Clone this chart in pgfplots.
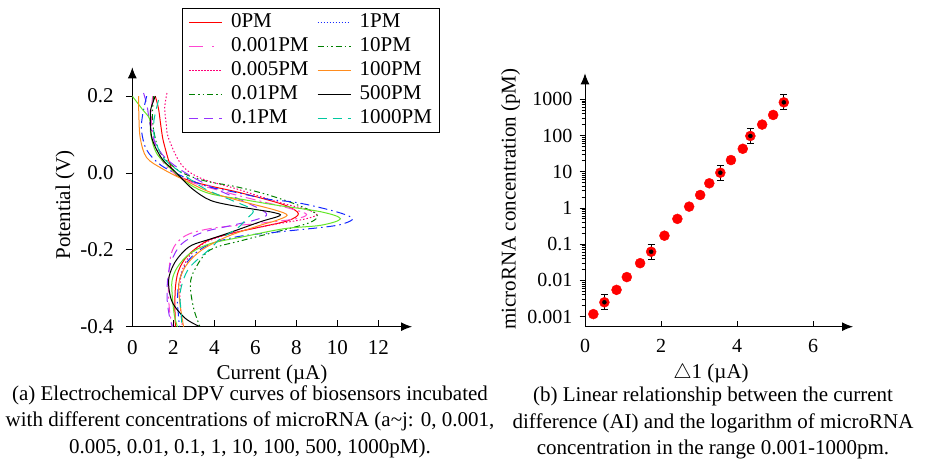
\documentclass[border=0pt]{standalone}
\usepackage{fontspec}
\setmainfont{Liberation Serif}
\usepackage{pgfplots}
\usepackage{pgfplotstable}
\pgfplotsset{compat=1.18}
\usetikzlibrary{arrows.meta}

\definecolor{cRed}{RGB}{255,0,0}
\definecolor{cMag}{RGB}{255,70,210}
\definecolor{cPink}{RGB}{255,0,120}
\definecolor{cDkGreen}{RGB}{0,128,0}
\definecolor{cViolet}{RGB}{150,50,255}
\definecolor{cBlue}{RGB}{20,40,255}
\definecolor{cLime}{RGB}{100,230,40}
\definecolor{cOrange}{RGB}{255,140,30}
\definecolor{cTeal}{RGB}{0,200,160}

% points of panel (b) that carry error bars
\pgfplotstableread{
x y ep em
0.51 0.0025 0.00156 0.00096
1.74 0.062 0.0386 0.0237
3.56 9.4 5.85 3.6
4.35 97 60 37
5.23 822 511 315
}\errpts

\begin{document}
\fontsize{21}{26.5}\selectfont
\begin{tikzpicture}[x=1pt,y=1pt]
\useasboundingbox (0,0) rectangle (930,459);

% ---------- (a) DPV curves ----------
\begin{axis}[
  at={(132.3pt,132.3pt)}, anchor=south west,
  scale only axis, width=279.7pt, height=259.4pt,
  xmin=0, xmax=13.64, ymin=-0.4, ymax=0.275,
  axis lines=left,
  axis line style={line width=1pt, -{Latex[length=11pt,width=9pt]}},
  tick align=outside, major tick length=6.5pt,
  tick style={black, line width=0.9pt},
  x tick style={yshift=6.5pt},
  xtick={0,2,4,6,8,10,12}, xticklabels={0,2,4,6,8,10,12},
  ytick={-0.4,-0.2,0,0.2}, yticklabels={-0.4,-0.2,0.0,0.2},
  yticklabel style={xshift=-5pt},
  legend columns=2, legend cell align=left,
  legend image code/.code={\draw[#1] (0pt,0pt) -- (33pt,0pt);},
  legend style={at={(0.178,1.2286)}, anchor=north west, draw=black, line width=0.9pt,
    inner xsep=6pt, inner ysep=2pt, column sep=7pt,
    nodes={inner sep=1.5pt, text height=16pt, text depth=5pt},
    font=\fontsize{21}{21}\selectfont},
  every axis plot/.append style={line width=1pt},
]
\addlegendimage{cRed, solid}\addlegendentry{0PM}
\addlegendimage{cBlue, dash pattern=on 1.5pt off 1.5pt}\addlegendentry{1PM}
\addlegendimage{cMag, dash pattern=on 14pt off 9pt on 1.5pt off 9pt}\addlegendentry{0.001PM}
\addlegendimage{cDkGreen, dash pattern=on 6pt off 3pt on 1.5pt off 3pt on 1.5pt off 3pt}\addlegendentry{10PM}
\addlegendimage{cPink, dash pattern=on 1.5pt off 1.5pt}\addlegendentry{0.005PM}
\addlegendimage{cOrange, solid}\addlegendentry{100PM}
\addlegendimage{cDkGreen, dash pattern=on 6pt off 3pt on 1.5pt off 3pt on 1.5pt off 3pt}\addlegendentry{0.01PM}
\addlegendimage{black, solid}\addlegendentry{500PM}
\addlegendimage{cViolet, dash pattern=on 9pt off 6pt}\addlegendentry{0.1PM}
\addlegendimage{cTeal, dash pattern=on 9pt off 6pt}\addlegendentry{1000PM}

% 0PM
\addplot[cRed, smooth, tension=0.55, forget plot] coordinates {
(1.12,0.200)(1.28,0.167)(1.40,0.120)(1.55,0.075)(2.00,0.003)(2.70,-0.018)(3.64,-0.032)(5.00,-0.048)(6.40,-0.067)(7.55,-0.086)(8.10,-0.106)(7.60,-0.124)(6.30,-0.140)(4.60,-0.160)(3.60,-0.178)(2.70,-0.215)(2.25,-0.255)(2.10,-0.300)(2.08,-0.350)(2.10,-0.400)};
% 0.001PM
\addplot[cMag, dash pattern=on 10pt off 4pt on 2pt off 4pt, smooth, tension=0.55, forget plot] coordinates {
(1.00,0.200)(0.92,0.160)(0.98,0.110)(1.20,0.060)(1.70,0.015)(2.70,-0.020)(4.20,-0.045)(6.00,-0.070)(7.80,-0.094)(8.50,-0.108)(7.90,-0.120)(6.00,-0.132)(4.00,-0.143)(2.80,-0.158)(2.20,-0.180)(1.90,-0.210)(1.78,-0.260)(1.76,-0.310)(1.82,-0.360)(1.95,-0.400)};
% 0.005PM
\addplot[cPink, dash pattern=on 1.5pt off 2pt, smooth, tension=0.55, forget plot] coordinates {
(1.69,0.208)(1.58,0.170)(1.65,0.130)(1.77,0.090)(2.42,0.020)(3.40,-0.015)(5.00,-0.040)(7.06,-0.075)(8.50,-0.095)(9.00,-0.108)(8.40,-0.120)(6.80,-0.135)(5.00,-0.155)(3.60,-0.180)(2.80,-0.215)(2.40,-0.260)(2.32,-0.310)(2.36,-0.360)(2.45,-0.400)};
% 0.01PM
\addplot[cDkGreen, dash pattern=on 6pt off 3pt on 1.5pt off 3pt on 1.5pt off 3pt, smooth, tension=0.55, forget plot] coordinates {
(1.04,0.200)(0.98,0.150)(1.08,0.100)(1.40,0.050)(2.30,0.005)(3.50,-0.020)(5.00,-0.035)(6.50,-0.055)(8.00,-0.082)(9.00,-0.108)(8.70,-0.128)(7.40,-0.148)(5.40,-0.175)(3.80,-0.200)(3.07,-0.249)(2.83,-0.290)(2.99,-0.352)(3.30,-0.400)};
% 0.1PM
\addplot[cViolet, dash pattern=on 9pt off 6pt, smooth, tension=0.55, forget plot] coordinates {
(0.55,0.208)(0.72,0.175)(0.85,0.130)(1.10,0.080)(1.60,0.040)(2.60,0.000)(4.00,-0.040)(5.50,-0.075)(6.55,-0.106)(6.00,-0.122)(4.80,-0.137)(3.40,-0.155)(2.40,-0.185)(1.90,-0.230)(1.72,-0.280)(1.70,-0.330)(1.80,-0.370)(1.95,-0.400)};
% 1PM
\addplot[cBlue, dash pattern=on 9pt off 4pt on 1.5pt off 4pt, smooth, tension=0.55, forget plot] coordinates {
(0.70,0.200)(0.50,0.150)(0.45,0.110)(0.70,0.060)(1.40,0.020)(2.50,-0.010)(3.60,-0.034)(5.00,-0.050)(6.60,-0.068)(7.90,-0.076)(9.00,-0.088)(10.20,-0.105)(10.75,-0.119)(10.30,-0.132)(9.50,-0.140)(7.20,-0.153)(5.10,-0.166)(3.60,-0.190)(2.70,-0.230)(2.30,-0.280)(2.20,-0.330)(2.25,-0.370)(2.30,-0.400)};
% 10PM
\addplot[cLime, smooth, tension=0.55, forget plot] coordinates {
(0.00,0.200)(0.50,0.165)(0.85,0.140)(0.90,0.100)(1.20,0.050)(2.00,0.005)(2.80,-0.030)(3.80,-0.054)(5.50,-0.070)(7.06,-0.084)(9.20,-0.101)(10.15,-0.119)(9.20,-0.136)(7.40,-0.145)(5.40,-0.166)(3.80,-0.184)(2.80,-0.210)(2.20,-0.245)(1.94,-0.280)(1.95,-0.320)(2.05,-0.370)(2.20,-0.400)};
% 100PM
\addplot[cOrange, smooth, tension=0.55, forget plot] coordinates {
(0.31,0.200)(0.32,0.150)(0.39,0.090)(0.70,0.040)(1.50,0.010)(2.60,-0.020)(3.80,-0.050)(5.50,-0.076)(7.00,-0.097)(7.55,-0.110)(7.00,-0.124)(6.24,-0.136)(4.60,-0.166)(3.40,-0.200)(2.70,-0.235)(2.35,-0.270)(2.26,-0.300)(2.35,-0.350)(2.50,-0.400)};
% 500PM
\addplot[black, smooth, tension=0.55, forget plot] coordinates {
(1.12,0.200)(0.92,0.170)(0.88,0.150)(0.96,0.090)(1.45,0.037)(2.10,0.003)(2.90,-0.040)(3.80,-0.071)(5.00,-0.086)(5.90,-0.094)(6.90,-0.103)(7.20,-0.111)(6.24,-0.127)(4.60,-0.158)(3.80,-0.172)(2.90,-0.188)(2.40,-0.210)(2.00,-0.240)(1.77,-0.280)(1.94,-0.335)(2.58,-0.378)(3.30,-0.400)};
% 1000PM
\addplot[cTeal, dash pattern=on 9pt off 6pt, smooth, tension=0.55, forget plot] coordinates {
(1.28,0.190)(1.10,0.150)(1.04,0.125)(1.10,0.090)(1.50,0.040)(2.40,0.000)(3.50,-0.040)(4.80,-0.070)(5.70,-0.090)(5.90,-0.101)(5.60,-0.118)(5.10,-0.145)(4.30,-0.171)(3.80,-0.197)(2.75,-0.249)(2.34,-0.309)(2.38,-0.360)(2.42,-0.400)};
\end{axis}

% ---------- (b) calibration ----------
\begin{axis}[
  at={(585pt,132.3pt)}, anchor=south west,
  scale only axis, width=268pt, height=253.4pt,
  xmin=0, xmax=7.05, ymode=log, ymin=5.3e-4, ymax=5200,
  axis lines=left,
  axis line style={line width=1pt, -{Latex[length=11pt,width=9pt]}},
  tick align=outside, major tick length=5.5pt, minor tick length=3.5pt,
  tick style={black, line width=0.8pt},
  x tick style={yshift=5.5pt},
  xtick={0,2,4,6}, xticklabels={0,2,4,6},
  ytick={0.001,0.01,0.1,1,10,100,1000},
  yticklabels={0.001,0.01,0.1,1,10,100,1000},
  tick label style={font=\fontsize{20}{20}\selectfont},
]
\addplot[only marks, mark=*, mark size=5pt, color=cRed, mark options={draw=cRed, fill=cRed}] coordinates {
(0.22,0.00118)(0.51,0.0025)(0.83,0.0055)(1.10,0.0124)(1.45,0.030)(1.74,0.062)
(2.09,0.172)(2.43,0.50)(2.74,1.09)(3.03,2.28)(3.27,4.8)(3.56,9.4)
(3.84,21)(4.15,43)(4.35,97)(4.66,200)(4.95,369)(5.23,822)};
\addplot[only marks, mark=none,
  error bars/.cd, y dir=both, y explicit,
  error bar style={black, line width=1pt},
  error mark options={rotate=90, mark size=3.5pt, black, line width=1pt}]
  table[x=x, y=y, y error plus=ep, y error minus=em] {\errpts};
\end{axis}

% labels and captions
\node[rotate=90] at (65,254) {Potential (V)};
\node at (272,85) {Current (µA)};
\node[rotate=90] at (510.5,260) {microRNA concentration (pM)};
\node at (711,86) {$\triangle$1 (µA)};
\node[align=center] at (250,37.5) {(a) Electrochemical DPV curves of biosensors incubated\\with different concentrations of microRNA (a\textasciitilde j: 0, 0.001,\\0.005, 0.01, 0.1, 1, 10, 100, 500, 1000pM).};
\node[align=center] at (713,36) {(b) Linear relationship between the current\\difference (AI) and the logarithm of microRNA\\concentration in the range 0.001-1000pm.};
\end{tikzpicture}
\end{document}
